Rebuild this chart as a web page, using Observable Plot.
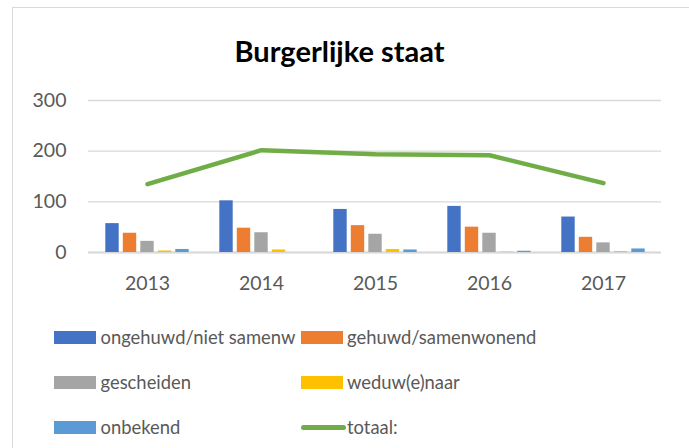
<!DOCTYPE html>
<html>
<head>
<meta charset="utf-8">
<script src="https://cdn.jsdelivr.net/npm/d3@7"></script>
<script src="https://cdn.jsdelivr.net/npm/@observablehq/plot@0.6"></script>
<style>
  html, body { margin: 0; padding: 0; background: #fff; }
  body { width: 689px; height: 448px; overflow: hidden; position: relative; font-family: Lato, "Open Sans", sans-serif; }
  #frame { position: absolute; left: 12px; top: 7px; width: 700px; height: 460px; border: 1px solid #d9d9d9; box-sizing: border-box; }
  #title { position: absolute; left: 0; width: 679px; top: 36px; text-align: center; font-weight: 700; font-size: 29px; line-height: 1; color: #000; }
  #chart { position: absolute; left: 0; top: 80px; }
  .leg { position: absolute; font-size: 18.4px; color: #595959; white-space: nowrap; line-height: 1; }
  .sw { position: absolute; width: 42px; height: 13px; }
</style>
</head>
<body>
<div id="frame"></div>
<div id="title">Burgerlijke staat</div>
<div id="chart"></div>
<div id="legend"></div>
<script>
const years = ["2013", "2014", "2015", "2016", "2017"];
const seriesNames = ["ongehuwd/niet samenw", "gehuwd/samenwonend", "gescheiden", "weduw(e)naar", "onbekend"];
const ongehuwd = [57, 102, 85, 91, 70];
const gehuwd = [38, 48, 53, 50, 30];
const gescheiden = [22, 39, 36, 38, 19];
const weduwnaar = [3, 5, 6, 1, 2];
const onbekend = [6, 0, 5, 2.5, 7];
const totaal = [135, 202, 194, 192, 137];
const totaalName = "totaal:";
const yTicks = [0, 100, 200, 300];

const colors = ["#4472C4", "#ED7D31", "#A5A5A5", "#FFC000", "#5B9BD5"];
const lineColor = "#70AD47";
const seriesValues = [ongehuwd, gehuwd, gescheiden, weduwnaar, onbekend];

const bandW = (661 - 88) / years.length;
const barW = 14, barStep = 17.5, firstOff = 15.3;

const barMarks = seriesValues.map((vals, i) => {
  const data = years.map((y, j) => ({year: y, value: vals[j]}));
  const left = firstOff + barStep * i;
  return Plot.barY(data, {
    x: "year", y: "value", fill: colors[i],
    insetLeft: left, insetRight: bandW - left - barW
  });
});

const lineData = years.map((y, j) => ({year: y, value: totaal[j]}));

const chart = Plot.plot({
  width: 689,
  height: 215,
  marginLeft: 88,
  marginRight: 28,
  marginTop: 20,
  marginBottom: 43,
  style: {fontFamily: "Lato, 'Open Sans', sans-serif", fontSize: "19.5px", color: "#595959", background: "transparent"},
  x: {domain: years, padding: 0, label: null},
  y: {domain: [0, 300], label: null},
  marks: [
    Plot.gridY(yTicks, {stroke: "#d9d9d9", strokeOpacity: 1, strokeWidth: 1.3}),
    Plot.ruleY([0], {stroke: "#d9d9d9", strokeWidth: 1.8}),
    ...barMarks,
    Plot.line(lineData, {x: "year", y: "value", stroke: lineColor, strokeWidth: 4.5, strokeLinecap: "round", strokeLinejoin: "round"}),
    Plot.axisX({tickSize: 0, tickPadding: 24, fill: "#595959"}),
    Plot.axisY({ticks: yTicks, tickSize: 0, tickPadding: 22, fill: "#595959"})
  ]
});
document.getElementById("chart").appendChild(chart);

// legend
const legend = document.getElementById("legend");
const items = seriesNames.map((n, i) => ({name: n, color: colors[i], type: "box"}));
items.push({name: totaalName, color: lineColor, type: "line"});
const colX = [54, 300.5];
const rowY = [337, 382, 427];
items.forEach((it, k) => {
  const col = k % 2, row = Math.floor(k / 2);
  const sw = document.createElement("div");
  sw.className = "sw";
  sw.style.left = colX[col] + "px";
  if (it.type === "box") {
    sw.style.top = (rowY[row] - 6.5) + "px";
    sw.style.background = it.color;
  } else {
    sw.style.top = (rowY[row] - 2.5) + "px";
    sw.style.height = "5px";
    sw.style.width = "45px";
    sw.style.borderRadius = "3px";
    sw.style.background = it.color;
  }
  legend.appendChild(sw);
  const t = document.createElement("div");
  t.className = "leg";
  t.textContent = it.name;
  t.style.left = (colX[col] + 46.5) + "px";
  t.style.top = (rowY[row] - 9.5) + "px";
  legend.appendChild(t);
});
</script>
</body>
</html>
